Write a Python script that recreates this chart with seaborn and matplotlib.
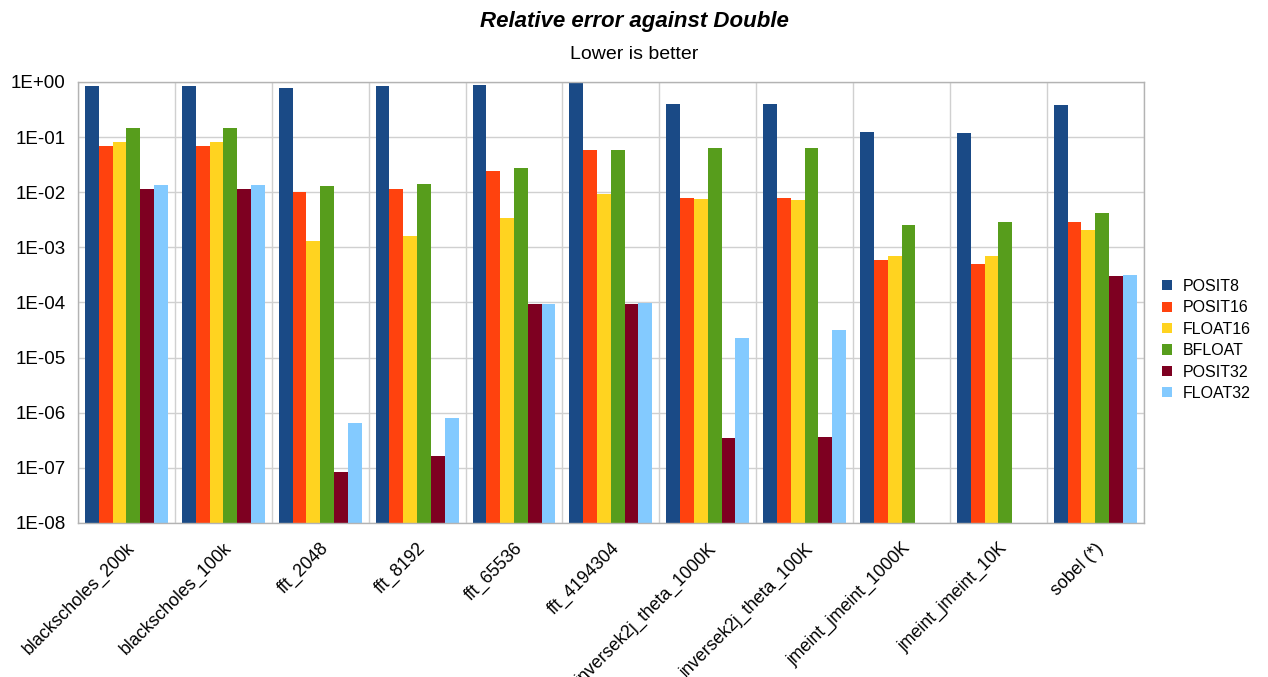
import matplotlib

matplotlib.use("Agg")

import matplotlib.pyplot as plt
import numpy as np
import pandas as pd
import seaborn as sns
from matplotlib.ticker import FixedLocator, FuncFormatter


benchmarks = [
    "blackscholes_200k", "blackscholes_100k", "fft_2048", "fft_8192", "fft_65536",
    "fft_4194304", "inversek2j_theta_1000K", "inversek2j_theta_100K",
    "jmeint_jmeint_1000K", "jmeint_jmeint_10K", "sobel (*)",
]
formats = ["POSIT8", "POSIT16", "FLOAT16", "BFLOAT", "POSIT32", "FLOAT32"]

posit8 = [0.85, 0.85, 0.76, 0.84, 0.895, 0.946, 0.394, 0.394, 0.121, 0.119, 0.383]
posit16 = [0.069, 0.069, 0.0102, 0.0112, 0.0244, 0.0578, 0.0078, 0.0080, 6.0e-4, 5.0e-4, 2.87e-3]
float16 = [0.083, 0.083, 0.00128, 0.00162, 0.0034, 0.0092, 0.0074, 0.0073, 7.0e-4, 7.0e-4, 2.08e-3]
bfloat = [0.143, 0.143, 0.0127, 0.0142, 0.0277, 0.0575, 0.062, 0.063, 2.5e-3, 2.83e-3, 4.12e-3]
posit32 = [0.0114, 0.0114, 8.4e-8, 1.66e-7, 9.25e-5, 9.3e-5, 3.5e-7, 3.7e-7, np.nan, np.nan, 2.97e-4]
float32 = [0.0133, 0.0133, 6.5e-7, 8.0e-7, 9.3e-5, 9.6e-5, 2.3e-5, 3.2e-5, np.nan, np.nan, 3.1e-4]

colors = ["#1a4a86", "#ff420e", "#ffd320", "#579d1c", "#7e0021", "#83caff"]


def build_frame():
    series = [posit8, posit16, float16, bfloat, posit32, float32]
    rows = []
    for fmt, values in zip(formats, series):
        for bench, value in zip(benchmarks, values):
            rows.append({"benchmark": bench, "format": fmt, "error": value})
    return pd.DataFrame(rows)


def main():
    df = build_frame()

    sns.set_style("white")
    plt.rcParams["font.family"] = ["Liberation Sans", "DejaVu Sans"]
    plt.rcParams["text.color"] = "black"
    plt.rcParams["xtick.color"] = "black"
    plt.rcParams["ytick.color"] = "black"

    fig = plt.figure(figsize=(12.68, 6.77), dpi=100)
    ax = fig.add_axes([0.0615, 0.2275, 0.8405, 0.6515])

    sns.barplot(
        data=df, x="benchmark", y="error", hue="format",
        order=benchmarks, hue_order=formats, palette=colors,
        width=0.855, saturation=1, linewidth=0, ax=ax,
    )

    ax.set_yscale("log")
    ax.set_ylim(1e-8, 1)
    ax.set_xlim(-0.5, len(benchmarks) - 0.5)
    ax.yaxis.set_major_locator(FixedLocator([10.0 ** p for p in range(-8, 1)]))
    ax.yaxis.set_minor_locator(FixedLocator([]))
    ax.yaxis.set_major_formatter(FuncFormatter(lambda v, pos: f"{v:.0E}"))

    # labels centred on groups, tick marks on the group boundaries
    ax.set_xticks(np.arange(len(benchmarks)))
    ax.set_xticks(np.arange(len(benchmarks) + 1) - 0.5, minor=True)
    ax.set_xticklabels(benchmarks, rotation=45, ha="right", rotation_mode="anchor", fontsize=12.8)
    ax.tick_params(axis="x", which="major", length=0, pad=12)
    ax.tick_params(axis="x", which="minor", length=6, color="#b3b3b3", width=1)
    ax.tick_params(axis="y", length=6, color="#b3b3b3", labelsize=13.5, pad=3)

    ax.set_axisbelow(True)
    ax.grid(axis="y", which="major", color="#d0d0d0", linewidth=1)
    ax.grid(axis="x", which="minor", color="#d0d0d0", linewidth=1)
    for spine in ax.spines.values():
        spine.set_color("#b3b3b3")
        spine.set_linewidth(1)

    ax.set_xlabel("")
    ax.set_ylabel("")

    ax.legend(
        loc="center left", bbox_to_anchor=(1.004, 0.415), frameon=False,
        fontsize=11.5, handlelength=0.6, handleheight=0.6, handletextpad=0.7,
        labelspacing=0.4,
    )

    fig.text(0.5, 0.968, "Relative error against Double", ha="center", va="center",
             fontsize=16, fontweight="bold", fontstyle="italic")
    fig.text(0.5, 0.92, "Lower is better", ha="center", va="center", fontsize=14)

    fig.savefig("out.png", dpi=100)
    plt.close(fig)


if __name__ == "__main__":
    main()
